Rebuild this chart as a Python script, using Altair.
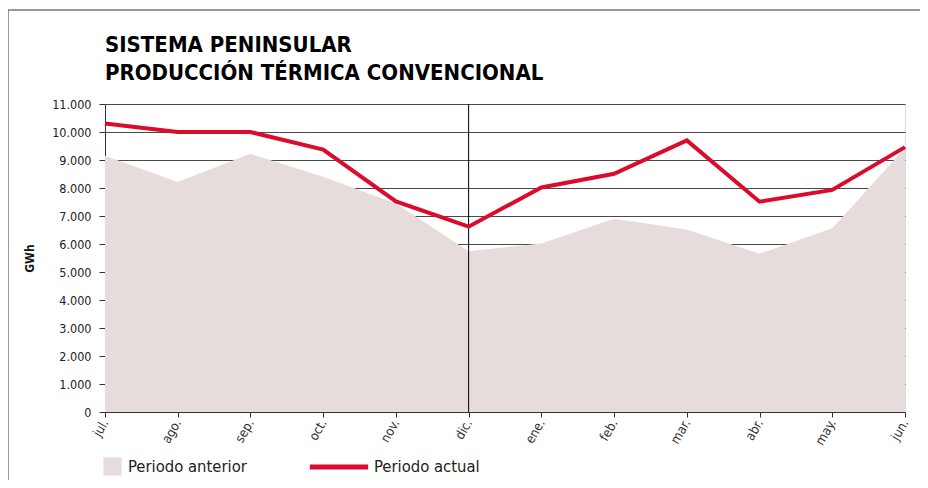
import altair as alt
import pandas as pd

months = ["jul.", "ago.", "sep.", "oct.", "nov.", "dic.", "ene.", "feb.", "mar.", "abr.", "may.", "jun."]
actual = [10300, 10000, 10000, 9370, 7520, 6620, 8020, 8510, 9700, 7510, 7930, 9460]
previous = [9150, 8210, 9220, 8400, 7450, 5740, 6020, 6900, 6520, 5650, 6560, 9430]
y_ticks = list(range(0, 11001, 1000))

FONT = "Liberation Sans Narrow, DejaVu Sans Condensed, Roboto Condensed, Arial Narrow, sans-serif"
RED = "#dc0a2d"
FILL = "#e6dcdb"

df = pd.DataFrame({
    "mes": months,
    "actual": actual,
    "anterior": previous,
    "s_act": ["Periodo actual"] * len(months),
    "s_ant": ["Periodo anterior"] * len(months),
})

x = alt.X("mes:N", sort=months, scale=alt.Scale(type="point", padding=0),
          axis=alt.Axis(title=None, labelAngle=-60, labelAlign="right", labelBaseline="middle",
                        labelFont=FONT, labelFontSize=13, labelColor="#333", labelPadding=3,
                        tickSize=5, tickColor="#333", domainColor="#333", grid=False))

yscale = alt.Scale(domain=[0, 11000], nice=False)
yaxis = alt.Axis(title="GWh", titleFont=FONT, titleFontSize=12, titleFontWeight="bold",
                 titleColor="#111", titlePadding=15,
                 values=y_ticks, labelExpr="replace(format(datum.value, ',d'), ',', '.')",
                 labelFont=FONT, labelFontSize=12.5, labelColor="#222", labelPadding=8,
                 tickSize=6, tickColor="#333", domainColor="#333",
                 grid=True, gridColor="#4a4a4a", gridWidth=1)

base = alt.Chart(df)

area = base.mark_area(opacity=1).encode(
    x=x,
    y=alt.Y("anterior:Q", scale=yscale, axis=yaxis),
    fill=alt.Fill("s_ant:N", scale=alt.Scale(domain=["Periodo anterior"], range=[FILL]),
                  legend=alt.Legend(title=None, orient="none", legendX=-2, legendY=353,
                                    symbolType="square", symbolSize=330, symbolStrokeWidth=0,
                                    labelFont=FONT, labelFontSize=16.5, labelColor="#222",
                                    labelOffset=6)),
)

rule = alt.Chart(pd.DataFrame({"mes": ["dic."]})).mark_rule(color="#000", strokeWidth=1).encode(
    x=alt.X("mes:N", sort=months)
)

line = base.mark_line(strokeWidth=4).encode(
    x=x,
    y=alt.Y("actual:Q", scale=yscale, axis=yaxis),
    stroke=alt.Stroke("s_act:N", scale=alt.Scale(domain=["Periodo actual"], range=[RED]),
                      legend=alt.Legend(title=None, orient="none", legendX=202, legendY=331,
                                        symbolType="stroke", symbolSize=3400, symbolStrokeWidth=5,
                                        labelFont=FONT, labelFontSize=16.5, labelColor="#222",
                                        labelOffset=3)),
)

frame = alt.Chart(pd.DataFrame({"a": [0]})).mark_rect(filled=False, stroke="#777", strokeWidth=1.5).encode(
    x=alt.value(-97), x2=alt.value(900), y=alt.value(-94), y2=alt.value(420)
)

chart = alt.layer(area, rule, line, frame).properties(
    width=800, height=308,
    title=alt.TitleParams(["SISTEMA PENINSULAR", "PRODUCCIÓN TÉRMICA CONVENCIONAL"],
                          anchor="start", frame="group", font=FONT, fontSize=22,
                          fontWeight="bold", color="#000", lineHeight=28, offset=-76),
    autosize=alt.AutoSizeParams(type="none"),
    padding={"left": 97, "top": 96, "right": 15, "bottom": 68},
).configure_view(stroke="#777", strokeWidth=1).configure(background="white")

chart.save("out.html", embed_options={"renderer": "svg", "actions": False})
